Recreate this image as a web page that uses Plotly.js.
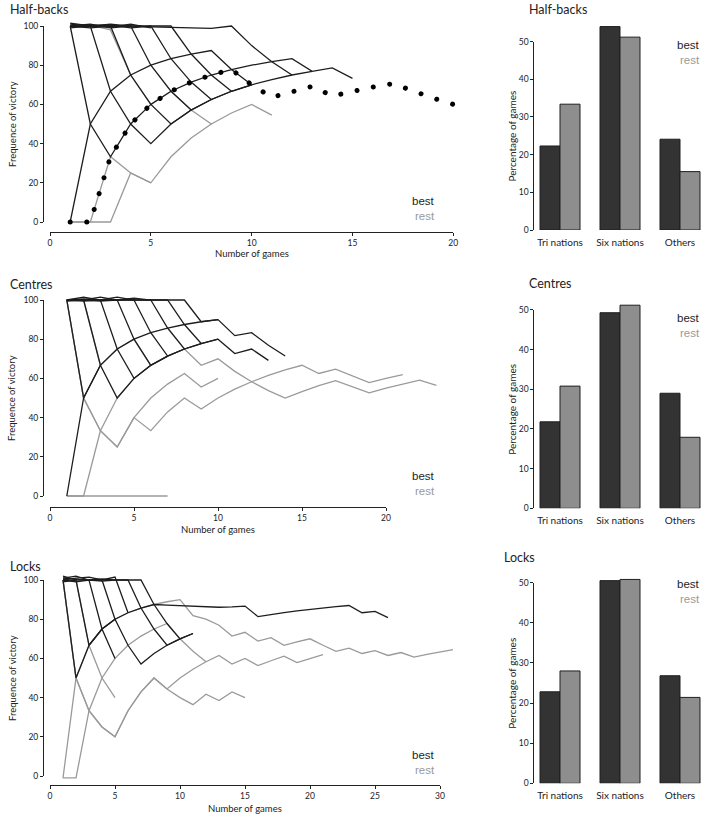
<!DOCTYPE html>
<html>
<head>
<meta charset="utf-8">
<script src="https://cdn.plot.ly/plotly-3.0.1.min.js"></script>
<style>
  html, body { margin: 0; padding: 0; background: #ffffff; }
  #chart { width: 717px; height: 822px; }
</style>
</head>
<body>
<div id="chart"></div>
<script>
// Cumulative frequency of victory (%) after each game, one list per player (game 1, 2, 3 ...)
const halfBacksBest = [
  [100, 100.5, 100, 100, 99.6, 99.3, 99, 98.8, 100, 90, 81.8, 75],
  [0, 50, 66.7, 75, 80, 83.3, 85.7, 87.5, 77.8, 70],
  [100, 50, 33.3, 50, 60, 66.7, 71.4, 75, 77.8, 80, 81.8, 83.3, 76.9, 78.6, 73.3],
  [101, 100, 66.7, 50, 40, 50, 57.1, 62.5, 66.7, 70, 72.7, 75, 76.9],
  [100, 99, 100, 75, 60, 50, 57.1],
  [99, 100, 101, 100, 80, 66.7, 57.1, 62.5],
  [100, 101, 99, 100, 100, 83.3, 71.4, 62.5, 66.7],
  [100, 100, 100.5, 99, 100, 100, 85.7, 75, 66.7, 70],
  [101.5, 100, 99.5, 101, 99]
];
const halfBacksRest = [
  [0, 0, 0, 25, 20, 33.3, 42.9, 50],
  [0, 0, 33.3, 25, 20],
  [100, 100.5, 98, 75, 60, 66.7, 57.1, 50, 55.6, 60, 54.5]
];
const halfBacksDotted = [0, 0, 33.3, 50, 60, 66.7, 71.4, 75, 77.8, 70, 63.6, 66.7, 69.2, 64.3, 66.7, 68.8, 70.6, 66.7, 63.2, 60];

const centresBest = [
  [100, 100.5, 100, 100, 100, 100, 100, 100, 88.9, 90, 81.8, 83.3, 76.9, 71.4],
  [0, 50, 66.7, 75, 80, 83.3, 85.7, 87.5, 88.9, 90],
  [100, 100, 66.7, 50, 60, 66.7, 71.4, 75, 77.8, 80, 72.7, 75, 69.2],
  [100, 101.5, 100, 75, 60, 66.7],
  [99.5, 100, 101.5, 100, 80, 66.7, 71.4],
  [100, 99.5, 100, 101.5, 100, 83.3, 71.4, 75],
  [100, 100, 99.5, 100, 101, 100, 85.7, 75, 77.8],
  [100, 100, 100, 100, 100, 100, 100, 87.5, 77.8, 80],
  [100, 50, 66.7]
];
const centresRest = [
  [0, 0, 0, 0, 0, 0, 0],
  [0, 0, 33.3, 50, 60],
  [100, 50, 33.3, 25, 40, 50, 57.1, 62.5, 55.6, 60],
  [100, 50, 33.3, 25, 40, 33.3, 42.9, 50, 44.4, 50, 54.5, 58.3, 61.5, 64.3, 66.7, 62.5, 64.7, 61.1, 57.9, 60, 61.9],
  [100, 100, 66.7, 75, 80, 66.7, 71.4, 75, 66.7, 70, 63.6, 58.3, 53.8, 50, 53.3, 56.3, 58.8, 55.6, 52.6, 55, 57.1, 59.1, 56.5]
];

const locksBest = [
  [100, 50, 66.7, 75, 80, 83.3, 85.7, 87.5, 87.2, 86.9, 86.6, 86.3, 86.1, 86.3, 86.7, 81.3, 82.4, 83.3, 84.2, 85, 85.7, 86.4, 87, 83.3, 84, 80.8],
  [102, 100, 66.7, 75, 80, 66.7, 57.1, 62.5, 66.7, 70, 72.7],
  [101, 102, 100, 100, 80],
  [100, 101, 101.5, 100, 101.5, 83.3],
  [99, 100, 100, 99.5, 100, 100, 85.7, 75, 66.7, 70, 72.7],
  [100, 99, 100, 100.5, 100, 100, 100, 87.5, 77.8, 70],
  [101, 100.5, 100, 75, 60]
];
const locksRest = [
  [-1, 50, 66.7, 75, 80, 83.3, 85.7, 87.5, 88.9, 90, 81.8, 80, 76.9, 71.4, 73.3, 68.8, 70.6, 66.7, 68.4, 70, 66.7, 63.6, 65.2, 62.5, 64, 61.5, 63, 60.7, 62.1, 63.3, 64.5],
  [-1, -1, 33.3, 50, 60, 66.7, 71.4, 75, 77.8, 70, 63.6, 58.3],
  [100, 50, 33.3, 25, 20, 33.3, 42.9, 50, 44.4, 50, 54.5, 58.3, 61.5, 57.1, 60, 56.3, 58.8, 61.1, 57.9, 60, 61.9],
  [100, 50, 33.3, 25, 20, 33.3, 42.9, 50, 44.4, 40, 36.4, 41.7, 38.5, 42.9, 40],
  [100, 100, 66.7, 50, 40]
];

// Share of games (%) by type of opponent
const competitions = ['Tri nations', 'Six nations', 'Others'];
const halfBacksShareBest = [22.3, 54.0, 24.1];
const halfBacksShareRest = [33.4, 51.2, 15.5];
const centresShareBest = [21.8, 49.3, 29.0];
const centresShareRest = [30.8, 51.2, 17.9];
const locksShareBest = [22.8, 50.5, 26.8];
const locksShareRest = [28.0, 50.8, 21.4];

const xTicksShort = [0, 5, 10, 15, 20];
const xTicksLong = [0, 5, 10, 15, 20, 25, 30];
const yTicksLine = [0, 20, 40, 60, 80, 100];
const yTicksBar = [0, 10, 20, 30, 40, 50];

// ---------------------------------------------------------------------------
const W = 717, H = 822;
const fx = p => p / W;          // pixel column -> paper x
const fy = p => 1 - p / H;      // pixel row -> paper y

const BEST = '#1d1d1d', REST = '#9a9a9a', INK = '#222222';
const FONT = 'Lato, "Open Sans", sans-serif';
const KEY_FONT = '"Liberation Sans", Arial, sans-serif';

const linePanels = [
  { title: 'Half-backs', best: halfBacksBest, rest: halfBacksRest, dotted: halfBacksDotted,
    zeroX: 50, unitX: 20.165, xTicks: xTicksShort, zeroY: 222, unitY: 1.96,
    axisY: 232, axisX: 43, left: 40, right: 470, top: 12, bottom: 238,
    titleY: 10, xTitleY: 254, keyY: 201 },
  { title: 'Centres', best: centresBest, rest: centresRest, dotted: null,
    zeroX: 50, unitX: 16.8, xTicks: xTicksShort, zeroY: 496, unitY: 1.96,
    axisY: 507, axisX: 43, left: 40, right: 470, top: 286, bottom: 512,
    titleY: 284, xTitleY: 529, keyY: 476 },
  { title: 'Locks', best: locksBest, rest: locksRest, dotted: null,
    zeroX: 50, unitX: 13.0, xTicks: xTicksLong, zeroY: 776, unitY: 1.96,
    axisY: 785, axisX: 43, left: 40, right: 472, top: 564, bottom: 790,
    titleY: 566, xTitleY: 808, keyY: 755 }
];

const barPanels = [
  { title: 'Half-backs', best: halfBacksShareBest, rest: halfBacksShareRest,
    zeroY: 230, unitY: 3.767, titleX: 527, titleY: 10, keyY: 45 },
  { title: 'Centres', best: centresShareBest, rest: centresShareRest,
    zeroY: 508.3, unitY: 3.967, titleX: 527, titleY: 283, keyY: 318 },
  { title: 'Locks', best: locksShareBest, rest: locksShareRest,
    zeroY: 783.3, unitY: 4.013, titleX: 502, titleY: 557, keyY: 584 }
];

const traces = [];
const layout = {
  width: W, height: H,
  margin: { l: 0, r: 0, t: 0, b: 0 },
  paper_bgcolor: '#ffffff', plot_bgcolor: 'rgba(0,0,0,0)',
  showlegend: false, hovermode: false,
  barmode: 'group', bargap: 0.3333, bargroupgap: 0,
  font: { family: FONT, color: INK, size: 10 },
  annotations: []
};

const tickStyle = {
  showline: true, linecolor: INK, linewidth: 1,
  ticks: 'outside', ticklen: 3, tickwidth: 1, tickcolor: INK,
  showgrid: false, zeroline: false, fixedrange: true,
  tickfont: { family: FONT, size: 8.5, color: INK }
};

function note(text, x, y, opts) {
  layout.annotations.push(Object.assign({
    text: text, x: fx(x), y: fy(y), xref: 'paper', yref: 'paper',
    showarrow: false, xanchor: 'center', yanchor: 'middle',
    font: { family: FONT, size: 10, color: INK }
  }, opts || {}));
}

function key(rightX, y) {
  note('best', rightX, y, { xanchor: 'right', font: { family: KEY_FONT, size: 11.5, color: BEST } });
  note('rest', rightX, y + 15, { xanchor: 'right', font: { family: KEY_FONT, size: 11.5, color: REST } });
}

let axisNo = 1;
const axName = (k, n) => k + (n === 1 ? '' : n);

linePanels.forEach(p => {
  const d = axisNo, s = axisNo + 1;
  axisNo += 2;
  const xd = axName('x', d), yd = axName('y', d), xs = axName('x', s), ys = axName('y', s);

  // plotting area for the trajectories (no visible axes)
  layout[axName('xaxis', d)] = {
    domain: [fx(p.left), fx(p.right)],
    range: [(p.left - p.zeroX) / p.unitX, (p.right - p.zeroX) / p.unitX],
    visible: false, fixedrange: true, anchor: yd
  };
  layout[axName('yaxis', d)] = {
    domain: [fy(p.bottom), fy(p.top)],
    range: [(p.zeroY - p.bottom) / p.unitY, (p.zeroY - p.top) / p.unitY],
    visible: false, fixedrange: true, anchor: xd
  };

  // detached axes spanning the tick range only
  const xEnd = p.xTicks[p.xTicks.length - 1];
  layout[axName('xaxis', s)] = Object.assign({}, tickStyle, {
    domain: [fx(p.zeroX), fx(p.zeroX + xEnd * p.unitX)],
    range: [0, xEnd], tickvals: p.xTicks, anchor: 'free', position: fy(p.axisY)
  });
  layout[axName('yaxis', s)] = Object.assign({}, tickStyle, {
    domain: [fy(p.zeroY), fy(p.zeroY - 100 * p.unitY)],
    range: [0, 100], tickvals: yTicksLine, anchor: 'free', position: fx(p.axisX)
  });
  traces.push({ type: 'scatter', x: [], y: [], xaxis: xs, yaxis: ys, hoverinfo: 'skip' });

  const addLine = (vals, color) => traces.push({
    type: 'scatter', mode: 'lines', xaxis: xd, yaxis: yd,
    x: vals.map((v, i) => i + 1), y: vals,
    line: { color: color, width: 1.3 }, hoverinfo: 'skip'
  });
  p.rest.forEach(v => addLine(v, REST));
  p.best.forEach(v => addLine(v, BEST));
  if (p.dotted) {
    traces.push({
      type: 'scatter', mode: 'lines', xaxis: xd, yaxis: yd, meta: 'dotted',
      x: p.dotted.map((v, i) => i + 1), y: p.dotted,
      line: { color: '#000000', width: 5, dash: '4px,12.6px' }, hoverinfo: 'skip'
    });
  }

  note(p.title, 8, p.titleY, { xanchor: 'left', font: { family: FONT, size: 12.5, color: INK } });
  note('Number of games', p.zeroX + xEnd * p.unitX / 2, p.xTitleY, { font: { family: FONT, size: 9.5, color: INK } });
  note('Frequence of victory', 12, p.zeroY - 50 * p.unitY, { textangle: -90, font: { family: FONT, size: 9.5, color: INK } });
  key(437, p.keyY);
});

barPanels.forEach(p => {
  const d = axisNo, s = axisNo + 1;
  axisNo += 2;
  const xd = axName('x', d), yd = axName('y', d), ys = axName('y', s);
  const top = p.zeroY - 57 * p.unitY;

  layout[axName('xaxis', d)] = {
    type: 'category', domain: [fx(530), fx(710)], range: [-0.5, 2.5],
    showline: false, showgrid: false, zeroline: false, fixedrange: true,
    ticks: 'outside', ticklen: 3, tickcolor: 'rgba(0,0,0,0)',
    tickfont: { family: FONT, size: 10, color: INK }, anchor: yd
  };
  layout[axName('yaxis', d)] = {
    domain: [fy(p.zeroY), fy(top)], range: [0, 57],
    visible: false, fixedrange: true, anchor: xd
  };
  layout[axName('yaxis', s)] = Object.assign({}, tickStyle, {
    domain: [fy(p.zeroY), fy(p.zeroY - 50 * p.unitY)],
    range: [0, 50], tickvals: yTicksBar, anchor: 'free', position: fx(533.3)
  });
  traces.push({ type: 'scatter', x: [], y: [], xaxis: xd, yaxis: ys, hoverinfo: 'skip' });

  const bar = (vals, color) => traces.push({
    type: 'bar', x: competitions, y: vals, xaxis: xd, yaxis: yd,
    marker: { color: color, line: { color: '#1f1f1f', width: 1 } }, hoverinfo: 'skip'
  });
  bar(p.best, '#333333');
  bar(p.rest, '#8e8e8e');

  note(p.title, p.titleX, p.titleY, { xanchor: 'left', font: { family: FONT, size: 12.5, color: INK } });
  note('Percentage of games', 511.7, p.zeroY - 25 * p.unitY, { textangle: -90, font: { family: FONT, size: 10, color: INK } });
  key(702, p.keyY);
});

const gd = document.getElementById('chart');
Plotly.newPlot(gd, traces, layout, { staticPlot: true, displayModeBar: false }).then(() => {
  // round dots for the highlighted trajectory
  gd.querySelectorAll('g.trace.scatter').forEach(g => {
    const cd = g.__data__;
    const tr = cd && cd[0] && cd[0].trace;
    if (tr && tr.meta === 'dotted') {
      g.querySelectorAll('path.js-line').forEach(path => {
        path.style.strokeLinecap = 'round';
        path.style.strokeDasharray = '0.01px,16.6px';
      });
    }
  });
});
</script>
</body>
</html>
